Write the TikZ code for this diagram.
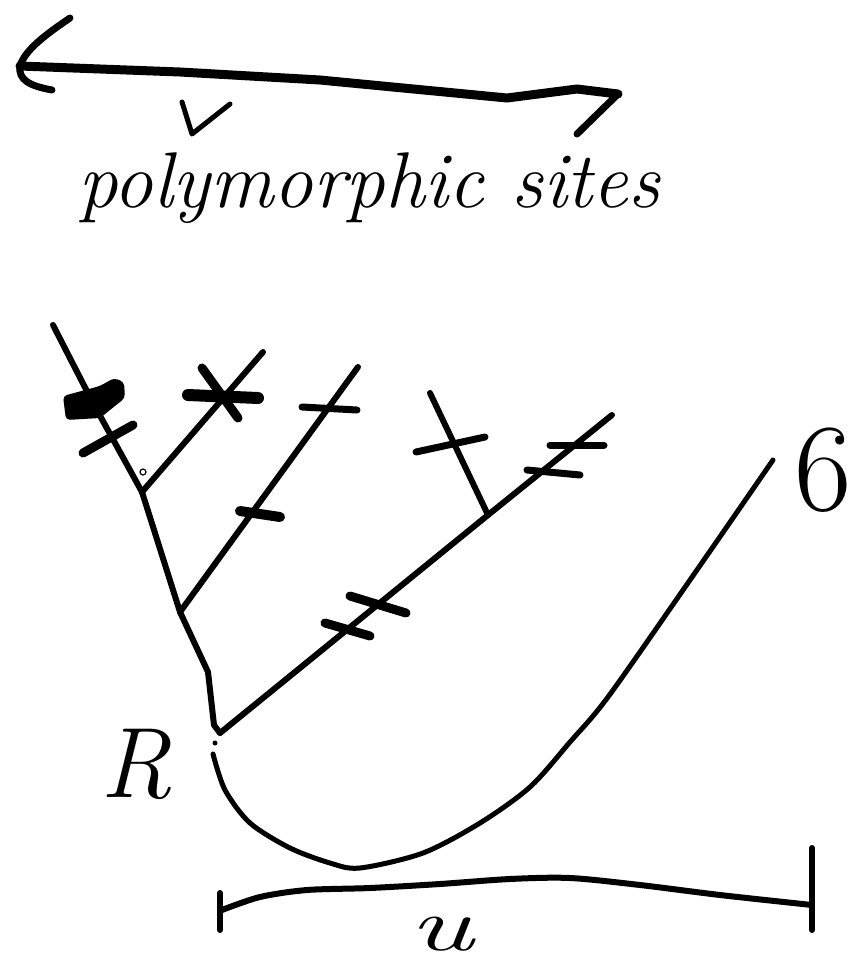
\documentclass[tikz,border=0pt]{standalone}
\tikzset{
  pen/.style={line width=6pt, line cap=round, line join=round},
  thinpen/.style={line width=5pt, line cap=round, line join=round},
  mutbar/.style={line width=9pt, line cap=round},
  lightbar/.style={line width=7pt, line cap=round},
  hand/.style={inner sep=0pt, outer sep=0pt}
}
\begin{document}
\begin{tikzpicture}[x=1pt,y=-1pt]
\useasboundingbox (0,0) rectangle (853,970);
% double arrow
\coordinate (aL) at (20,66);
\coordinate (aR) at (618,94);
\draw[line width=9pt, line cap=round, line join=round] (aL) -- (180,72) -- (320,80) -- (507,98) -- (577,89) -- (aR);
\draw[lightbar] (70,18) .. controls (45,35) and (25,50) .. (aL) .. controls (18,80) and (30,86) .. (52,90);
\draw[lightbar] (aR) -- (577,134);
% label
\node[hand, anchor=base west, font=\fontsize{79}{79}\selectfont\itshape] (label) at (78,207) {polymorphic sites};
\draw[thinpen] (182,102) -- (192,134) -- (230,104);
% tree
\coordinate (L1) at (53,325);
\coordinate (L2) at (263,352);
\coordinate (L3) at (358,367);
\coordinate (L4) at (430,393);
\coordinate (L5) at (612,415);
\coordinate (N1) at (142,492);
\coordinate (N2) at (180,612);
\coordinate (N3) at (488,515);
\coordinate (Rt) at (220,733);
\draw[pen] (L1) -- (93,403) -- (N1);
\draw[pen] (L2) -- (N1);
\draw[pen] (N1) -- (N2);
\draw[pen] (L3) -- (N2);
\draw[pen] (N2) -- (208,672) -- (214,725) -- (Rt);
\draw[pen] (Rt) -- (N3) -- (L5);
\draw[pen] (L4) -- (N3);
% mutations
\fill[rounded corners=4pt] (63,396) -- (100,386) -- (114,378) -- (124,382) -- (125,398) -- (110,410) -- (100,418) -- (66,420) -- cycle;
\draw[mutbar] (83,453) -- (133,425);
\draw[mutbar] (202,368) -- (238,418);
\draw[line width=12pt, line cap=round] (188,395) -- (258,398);
\draw[lightbar] (302,407) -- (357,410);
\draw[line width=10pt, line cap=round] (240,511) -- (280,517);
\draw[mutbar] (350,596) -- (406,613);
\draw[mutbar] (325,623) -- (370,636);
\draw[lightbar] (527,470) -- (580,475);
\draw[lightbar] (550,445) -- (604,445);
\draw[lightbar] (416,452) -- (485,437);
\draw[line width=1.2pt] (143,472) circle (3);
% U curve
\fill (215,743) circle (2.5);
\draw[thinpen] plot[smooth] coordinates {(213,754) (225,790) (250,823) (290,848) (330,863) (360,868) (423,853) (480,823) (530,787) (570,742) (608,697) (690,580) (773,460)};
% bracket
\draw[pen] plot[smooth] coordinates {(222,910) (260,897) (307,890) (370,888) (440,884) (510,879) (570,878) (640,885) (720,895) (812,905)};
\draw[pen] (220,893) -- (220,930);
\draw[pen] (812,848) -- (812,930);
% labels
\node[hand, anchor=base west, font=\fontsize{100}{100}\selectfont\itshape] (Rlab) at (100,797) {R};
\node[hand, anchor=center, font=\fontsize{125}{125}\selectfont] (six) at (823,470) {6};
\node[hand, anchor=base, xscale=1.6, font=\fontsize{76}{76}\selectfont\itshape] (ulab) at (441,950) {u};
\end{tikzpicture}
\end{document}
